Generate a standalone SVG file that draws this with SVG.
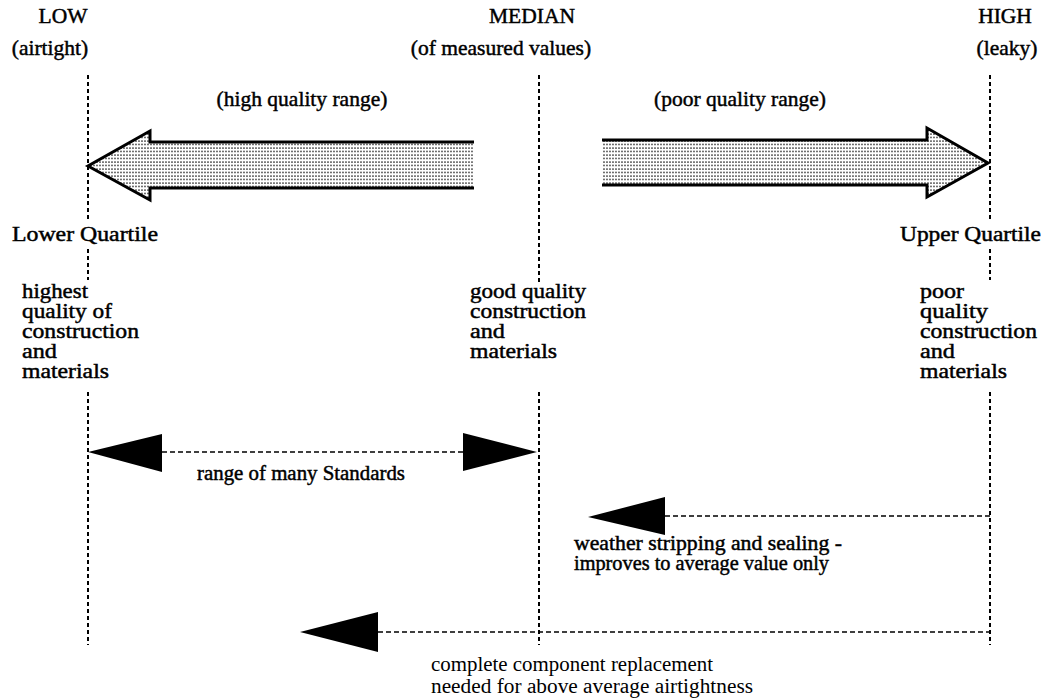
<svg xmlns="http://www.w3.org/2000/svg" width="1047" height="699" viewBox="0 0 1047 699">
<style>
text{font-family:"Liberation Serif","Times New Roman",serif;font-size:20px;fill:#000;stroke:#000;stroke-width:0.45px}
.t{font-size:21.5px;text-anchor:middle}
.r{stroke:none;font-size:20px}
.vd{stroke:#000;stroke-width:2;stroke-dasharray:4 3;fill:none}
.hd{stroke:#000;stroke-width:1.6;stroke-dasharray:5 3;fill:none}
.big{fill:url(#dots);stroke:none}
.bigo{fill:none;stroke:#000;stroke-width:3;stroke-linejoin:miter}
.tri{fill:#000;stroke:none}
</style>
<defs>
<pattern id="dots" width="3" height="3.5" patternUnits="userSpaceOnUse">
<rect width="3" height="3.5" fill="#fff"/>
<circle cx="1" cy="1" r="0.85" fill="#222"/>
</pattern>
</defs>
<g id="axes">
<path class="vd" d="M88,75V222M88,249V280M88,392V645"/>
<path class="vd" d="M539,75V282M539,392V645"/>
<path class="vd" d="M990,75V222M990,249V280M990,392V645"/>
</g>
<g id="labels-top">
<text class="t" x="63" y="23">LOW</text>
<text class="t" x="50" y="55">(airtight)</text>
<text class="t" x="532" y="23">MEDIAN</text>
<text class="t" x="501" y="55">(of measured values)</text>
<text class="t" x="1005" y="23">HIGH</text>
<text class="t" x="1007" y="55">(leaky)</text>
<text class="t" x="302" y="106">(high quality range)</text>
<text class="t" x="740" y="106">(poor quality range)</text>
</g>
<g id="arrow-high-quality">
<polygon class="big" points="474,142 150,142 150,131 88,166 150,200 150,188 474,188"/>
<polyline class="bigo" points="474,142 150,142 150,131 88,166 150,200 150,188 474,188"/>
</g>
<g id="arrow-poor-quality">
<polygon class="big" points="602,140 927,140 927,128 988,163 927,197 927,185 602,185"/>
<polyline class="bigo" points="602,140 927,140 927,128 988,163 927,197 927,185 602,185"/>
</g>
<g id="lower-quartile">
<text x="12" y="241" textLength="146" lengthAdjust="spacingAndGlyphs">Lower Quartile</text>
<text x="22" y="298" textLength="66" lengthAdjust="spacingAndGlyphs">highest</text>
<text x="22" y="318" textLength="90" lengthAdjust="spacingAndGlyphs">quality of</text>
<text x="22" y="338" textLength="117" lengthAdjust="spacingAndGlyphs">construction</text>
<text x="22" y="358" textLength="35" lengthAdjust="spacingAndGlyphs">and</text>
<text x="22" y="378" textLength="87" lengthAdjust="spacingAndGlyphs">materials</text>
</g>
<g id="median-note">
<text x="470" y="298" textLength="116" lengthAdjust="spacingAndGlyphs">good quality</text>
<text x="470" y="318" textLength="116" lengthAdjust="spacingAndGlyphs">construction</text>
<text x="470" y="338" textLength="35" lengthAdjust="spacingAndGlyphs">and</text>
<text x="470" y="358" textLength="87" lengthAdjust="spacingAndGlyphs">materials</text>
</g>
<g id="upper-quartile">
<text x="900" y="241" textLength="141" lengthAdjust="spacingAndGlyphs">Upper Quartile</text>
<text x="920" y="298" textLength="44" lengthAdjust="spacingAndGlyphs">poor</text>
<text x="920" y="318" textLength="68" lengthAdjust="spacingAndGlyphs">quality</text>
<text x="920" y="338" textLength="117" lengthAdjust="spacingAndGlyphs">construction</text>
<text x="920" y="358" textLength="35" lengthAdjust="spacingAndGlyphs">and</text>
<text x="920" y="378" textLength="87" lengthAdjust="spacingAndGlyphs">materials</text>
</g>
<g id="connectors">
<path class="hd" d="M162,452H463"/>
<polygon class="tri" points="88,452 162,434 162,472"/>
<polygon class="tri" points="537,452 463,433 463,471"/>
<path class="hd" d="M665,516H990"/>
<polygon class="tri" points="588,517 665,497 665,535"/>
<path class="hd" d="M378,632H990"/>
<polygon class="tri" points="300,632 378,612 378,652"/>
</g>
<g id="connector-labels">
<text x="197" y="480" textLength="208" lengthAdjust="spacingAndGlyphs">range of many Standards</text>
<text x="574" y="550" textLength="268" lengthAdjust="spacingAndGlyphs">weather stripping and sealing -</text>
<text x="574" y="570" textLength="255" lengthAdjust="spacingAndGlyphs">improves to average value only</text>
<text x="431" y="671" class="r" textLength="282" lengthAdjust="spacingAndGlyphs">complete component replacement</text>
<text x="431" y="693" class="r" textLength="322" lengthAdjust="spacingAndGlyphs">needed for above average airtightness</text>
</g>
</svg>
